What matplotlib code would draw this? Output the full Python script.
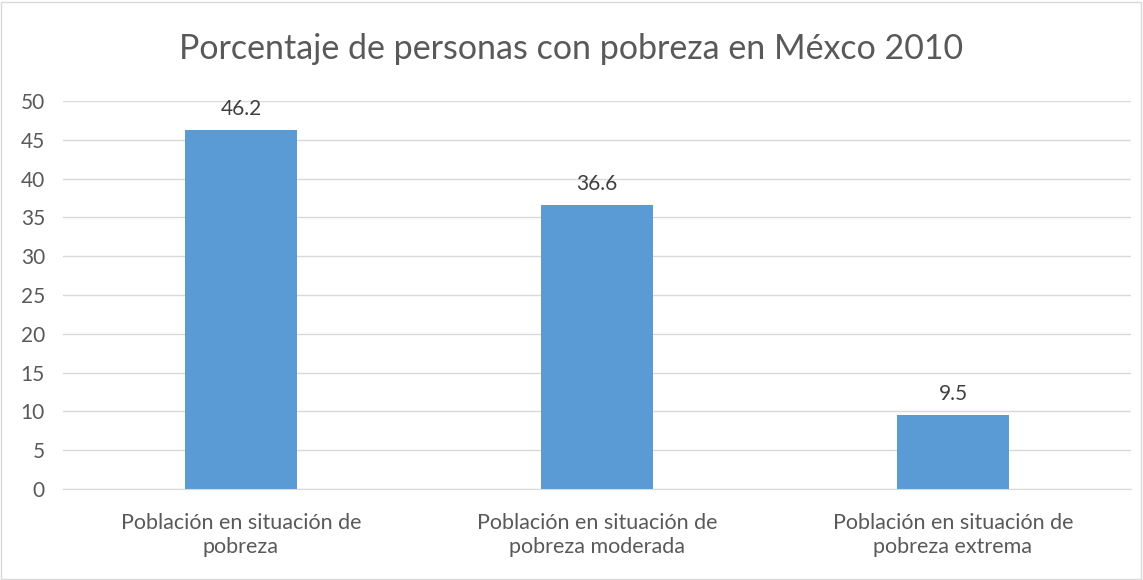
import matplotlib.pyplot as plt
from matplotlib.patches import Rectangle

categorias = ['Población en situación de\npobreza',
              'Población en situación de\npobreza moderada',
              'Población en situación de\npobreza extrema']
porcentajes = [46.2, 36.6, 9.5]
ticks_y = [0, 5, 10, 15, 20, 25, 30, 35, 40, 45, 50]

plt.rcParams['font.family'] = ['Lato', 'DejaVu Sans']

fig = plt.figure(figsize=(11.43, 5.8), dpi=100)
ax = fig.add_axes([0.0551, 0.1569, 0.9344, 0.669])

x = range(len(categorias))
barras = ax.bar(x, porcentajes, width=0.317, color='#5B9BD5', zorder=3)
for b, v in zip(barras, porcentajes):
    ax.annotate(f'{v}', (b.get_x() + b.get_width() / 2, v),
                xytext=(0, 8), textcoords='offset points',
                ha='center', va='bottom', fontsize=15, color='#404040')

ax.set_xlim(-0.5, len(categorias) - 0.5)
ax.set_ylim(0, 50)
ax.set_yticks(ticks_y)
ax.set_xticks(list(x))
ax.set_xticklabels(categorias, fontsize=15.5, color='#595959', linespacing=1.25)
ax.tick_params(axis='y', labelsize=15, labelcolor='#595959', length=0, pad=13)
ax.tick_params(axis='x', length=0, pad=17)
ax.grid(axis='y', color='#D9D9D9', linewidth=1, zorder=0)
for lado in ['top', 'right', 'left']:
    ax.spines[lado].set_visible(False)
ax.spines['bottom'].set_color('#D9D9D9')
ax.spines['bottom'].set_zorder(4)

fig.text(0.5, 0.916, 'Porcentaje de personas con pobreza en Méxco 2010',
         ha='center', va='center', fontsize=24.5, color='#595959')

fig.patches.append(Rectangle((0.001, 0.002), 0.997, 0.995, transform=fig.transFigure,
                             fill=False, edgecolor='#D9D9D9', linewidth=1))

fig.savefig('out.png', dpi=100)
